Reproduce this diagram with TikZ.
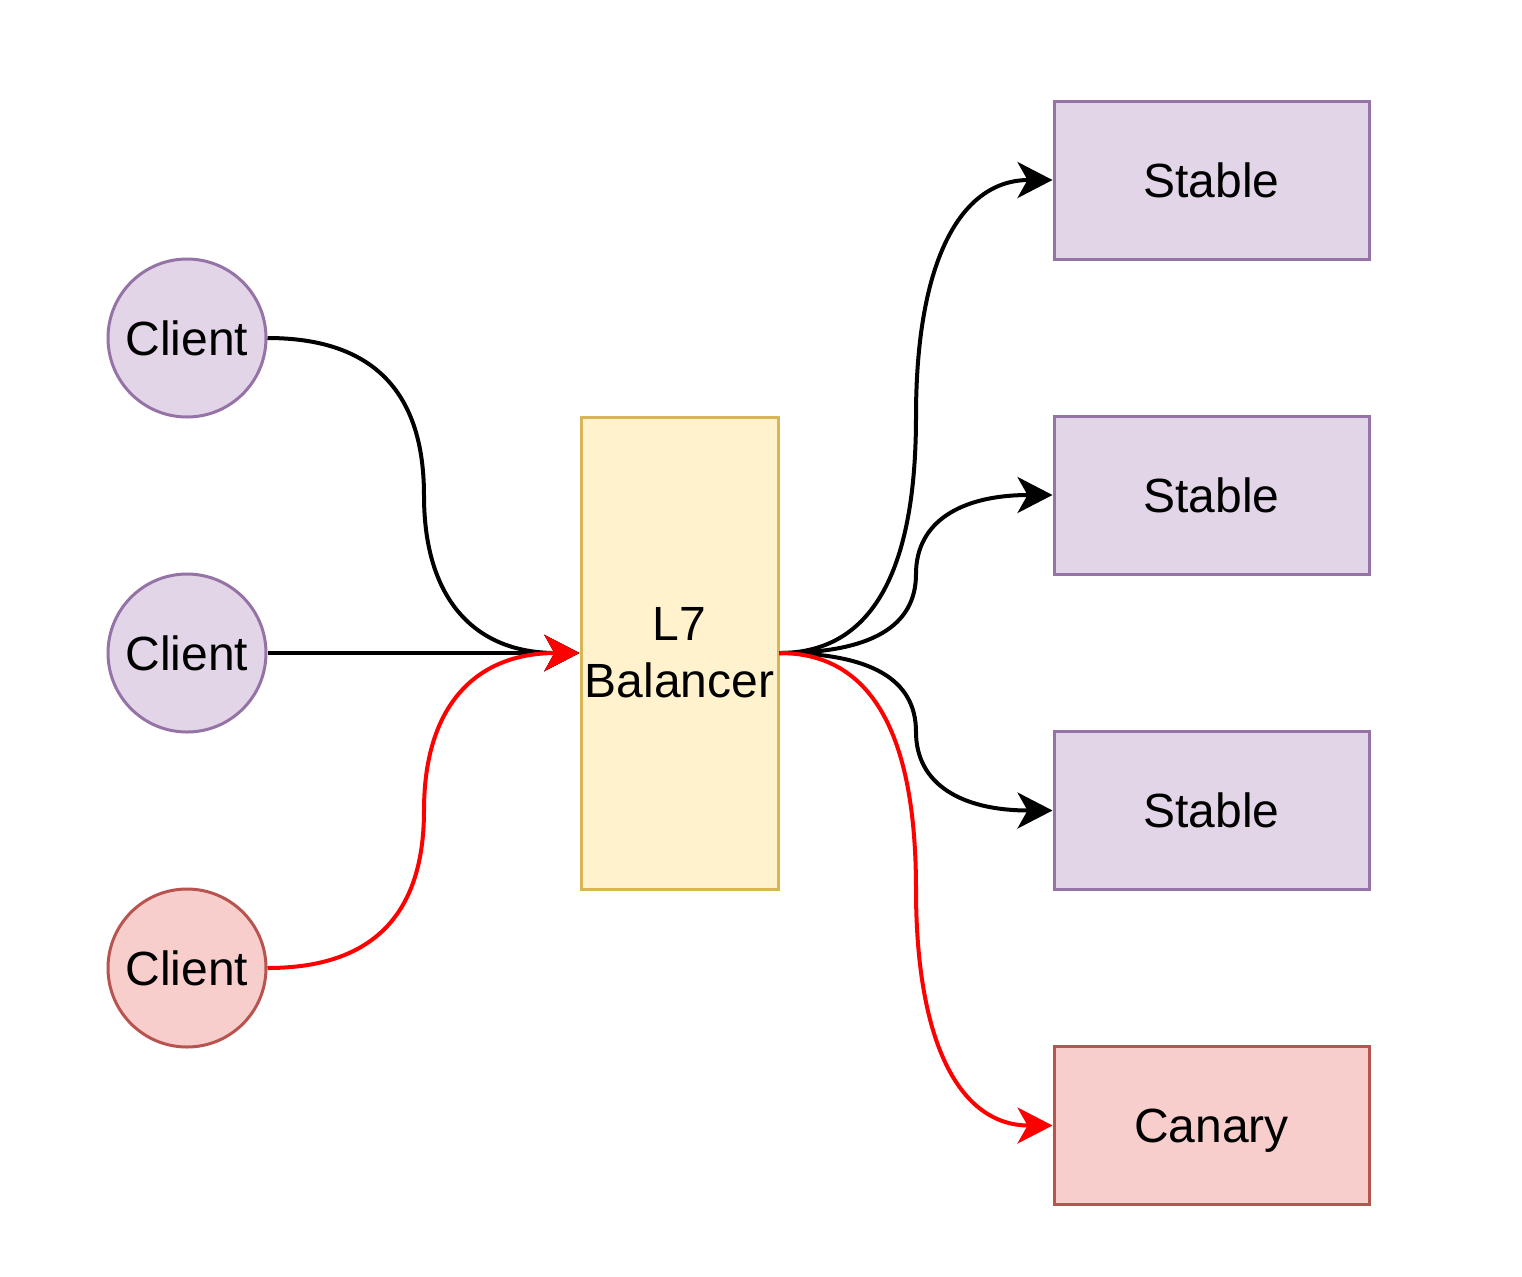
\documentclass[tikz,border=0pt]{standalone}
\usepackage{fontspec}
\setmainfont{Liberation Sans}
\usetikzlibrary{arrows.meta,calc}
\definecolor{pfill}{HTML}{E1D5E7}
\definecolor{pdraw}{HTML}{9673A6}
\definecolor{rfill}{HTML}{F8CECC}
\definecolor{rdraw}{HTML}{B85450}
\definecolor{yfill}{HTML}{FFF2CC}
\definecolor{ydraw}{HTML}{D6B656}
\definecolor{redline}{HTML}{FF0000}
\tikzset{
  lbl/.style={font=\fontsize{24}{28.5}\selectfont, text=black, align=center, inner sep=0pt},
  onel/.style={lbl, text height=17.2pt, text depth=0pt},
  client/.style={onel, circle, minimum size=79pt, line width=1.5pt, draw=pdraw, fill=pfill},
  redclient/.style={client, draw=rdraw, fill=rfill},
  balancer/.style={lbl, rectangle, minimum width=98.5pt, minimum height=236pt, line width=1.5pt, draw=ydraw, fill=yfill},
  server/.style={onel, rectangle, minimum width=157.5pt, minimum height=79pt, line width=1.5pt, draw=pdraw, fill=pfill},
  redserver/.style={server, draw=rdraw, fill=rfill},
  conn/.style={line width=2pt, color=black, -{Stealth[length=17.5pt, width=18pt, inset=5pt]}},
  redconn/.style={conn, color=redline}
}
% quadratic-spline route (draw.io curved orthogonal edge)
\newcommand\qroute[5]{% #1 start, #2 corner1, #3 mid, #4 corner2, #5 end
  (#1) .. controls ($(#1)!2/3!(#2)$) and ($(#3)!2/3!(#2)$) .. (#3)
       .. controls ($(#3)!2/3!(#4)$) and ($(#5)!2/3!(#4)$) .. (#5)}
\begin{document}
\begin{tikzpicture}[x=0.5pt, y=-0.5pt]
\useasboundingbox (0,0) rectangle (1522,1276);
\fill[white] (0,0) rectangle (1522,1276);

\node[client] (c1) at (187,338) {Client};
\node[client] (c2) at (187,653) {Client};
\node[redclient] (c3) at (187,968) {Client};

\node[balancer] (lb) at (679.5,653) {L7\\Balancer};

\node[server] (s1) at (1211.5,180) {Stable};
\node[server] (s2) at (1211.5,495) {Stable};
\node[server] (s3) at (1211.5,810.5) {Stable};
\node[redserver] (cn) at (1211.5,1125.5) {Canary};

% waypoints (left routes at x=424, right routes at x=916)
\coordinate (a1) at (424,338);  \coordinate (am1) at (424,495.5); \coordinate (b1) at (424,653);
\coordinate (a3) at (424,968);  \coordinate (am3) at (424,810.5);
\coordinate (r0) at (916,653);
\coordinate (r1) at (916,180);  \coordinate (rm1) at (916,416.5);
\coordinate (r2) at (916,495);  \coordinate (rm2) at (916,574);
\coordinate (r3) at (916,810.5);\coordinate (rm3) at (916,731.75);
\coordinate (r4) at (916,1125.5);\coordinate (rm4) at (916,889.25);

\draw[conn] \qroute{c1.east}{a1}{am1}{b1}{lb.west};
\draw[conn] (c2.east) -- (lb.west);
\draw[conn] \qroute{lb.east}{r0}{rm1}{r1}{s1.west};
\draw[conn] \qroute{lb.east}{r0}{rm2}{r2}{s2.west};
\draw[conn] \qroute{lb.east}{r0}{rm3}{r3}{s3.west};
\draw[redconn] \qroute{c3.east}{a3}{am3}{b1}{lb.west};
\draw[redconn] \qroute{lb.east}{r0}{rm4}{r4}{cn.west};
\end{tikzpicture}
\end{document}
